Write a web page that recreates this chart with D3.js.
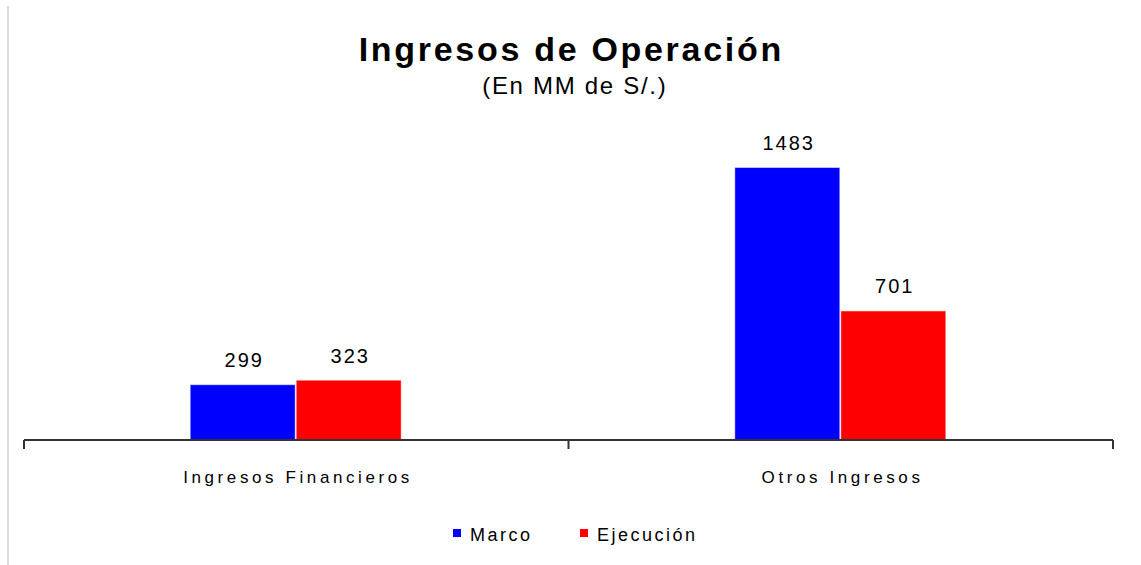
<!DOCTYPE html>
<html>
<head>
<meta charset="utf-8">
<script src="https://cdn.jsdelivr.net/npm/d3@7"></script>
<style>
  body { margin: 0; background: #fff; }
  text { font-family: "Liberation Sans", Arial, sans-serif; fill: #000; }
</style>
</head>
<body>
<script>
const categories = ['Ingresos Financieros', 'Otros Ingresos'];
const seriesNames = ['Marco', 'Ejecución'];
const marco = [299, 1483];
const ejecucion = [323, 701];
const colors = ['#0000ff', '#ff0000'];

const width = 1141, height = 565;
const margin = { left: 24, right: 28, top: 168, bottom: 125 };
const plotBottom = height - margin.bottom; // 440

const svg = d3.select('body').append('svg')
    .attr('width', width)
    .attr('height', height);

// left frame line
svg.append('line')
    .attr('x1', 8).attr('x2', 8)
    .attr('y1', 6).attr('y2', height)
    .attr('stroke', '#dcdcdc')
    .attr('stroke-width', 2);

const x0 = d3.scaleBand()
    .domain(categories)
    .range([margin.left, width - margin.right])
    .padding(0);

const x1 = d3.scaleBand()
    .domain(seriesNames)
    .range([0, 212])
    .padding(0);

const y = d3.scaleLinear()
    .domain([0, 1483])
    .range([plotBottom, margin.top]);

const rows = categories.map((c, i) => ({
    cat: c,
    vals: [{ s: seriesNames[0], v: marco[i], c: colors[0] }, { s: seriesNames[1], v: ejecucion[i], c: colors[1] }]
}));

const groups = svg.selectAll('g.grp')
    .data(rows)
    .enter()
    .append('g')
    .attr('class', 'grp')
    .attr('transform', d => `translate(${x0(d.cat) + x0.bandwidth() / 2 - 106},0)`);

groups.selectAll('rect')
    .data(d => d.vals)
    .enter()
    .append('rect')
    .attr('x', d => x1(d.s) + 0.5)
    .attr('width', x1.bandwidth() - 2)
    .attr('y', d => y(d.v))
    .attr('height', d => plotBottom - y(d.v))
    .attr('fill', d => d.c)
    .attr('stroke', d => d3.color(d.c).brighter(1.2))
    .attr('stroke-opacity', 0.5)
    .attr('stroke-width', 1);

// value labels
groups.selectAll('text')
    .data(d => d.vals)
    .enter()
    .append('text')
    .attr('x', d => x1(d.s) + x1.bandwidth() / 2)
    .attr('dx', 1)
    .attr('y', d => y(d.v) - 18)
    .attr('text-anchor', 'middle')
    .style('font-size', '20px')
    .style('letter-spacing', '2px')
    .text(d => d.v);

// x axis
svg.append('line')
    .attr('x1', margin.left).attr('x2', width - margin.right)
    .attr('y1', plotBottom).attr('y2', plotBottom)
    .attr('stroke', '#333')
    .attr('stroke-width', 2);

// category boundary ticks
const bounds = [margin.left, ...categories.map(c => x0(c) + x0.bandwidth())];
svg.selectAll('line.tk')
    .data(bounds)
    .enter()
    .append('line')
    .attr('class', 'tk')
    .attr('x1', d => d).attr('x2', d => d)
    .attr('y1', plotBottom).attr('y2', plotBottom + 9)
    .attr('stroke', '#333')
    .attr('stroke-width', 2);

svg.selectAll('text.cat')
    .data(categories)
    .enter()
    .append('text')
    .attr('class', 'cat')
    .attr('x', d => x0(d) + x0.bandwidth() / 2)
    .attr('dx', 1.8)
    .attr('y', 483)
    .attr('text-anchor', 'middle')
    .style('font-size', '17px')
    .style('letter-spacing', '3.6px')
    .text(d => d);

// title
svg.append('text')
    .attr('x', 570).attr('dx', 1.3).attr('y', 61)
    .attr('text-anchor', 'middle')
    .style('font-size', '34px')
    .style('font-weight', 'bold')
    .style('letter-spacing', '2.7px')
    .text('Ingresos de Operación');

svg.append('text')
    .attr('x', 574).attr('dx', 0.8).attr('y', 94)
    .attr('text-anchor', 'middle')
    .style('font-size', '24px')
    .style('letter-spacing', '1.7px')
    .text('(En MM de S/.)');

// legend
const legendX = [453, 580];
const legend = svg.selectAll('g.leg')
    .data(seriesNames)
    .enter()
    .append('g')
    .attr('class', 'leg')
    .attr('transform', (d, i) => `translate(${legendX[i]},529)`);

legend.append('rect')
    .attr('width', 8).attr('height', 8)
    .attr('fill', (d, i) => colors[i]);

legend.append('text')
    .attr('x', 17).attr('y', 12)
    .style('font-size', '18px')
    .style('letter-spacing', '2.5px')
    .text(d => d);
</script>
</body>
</html>
